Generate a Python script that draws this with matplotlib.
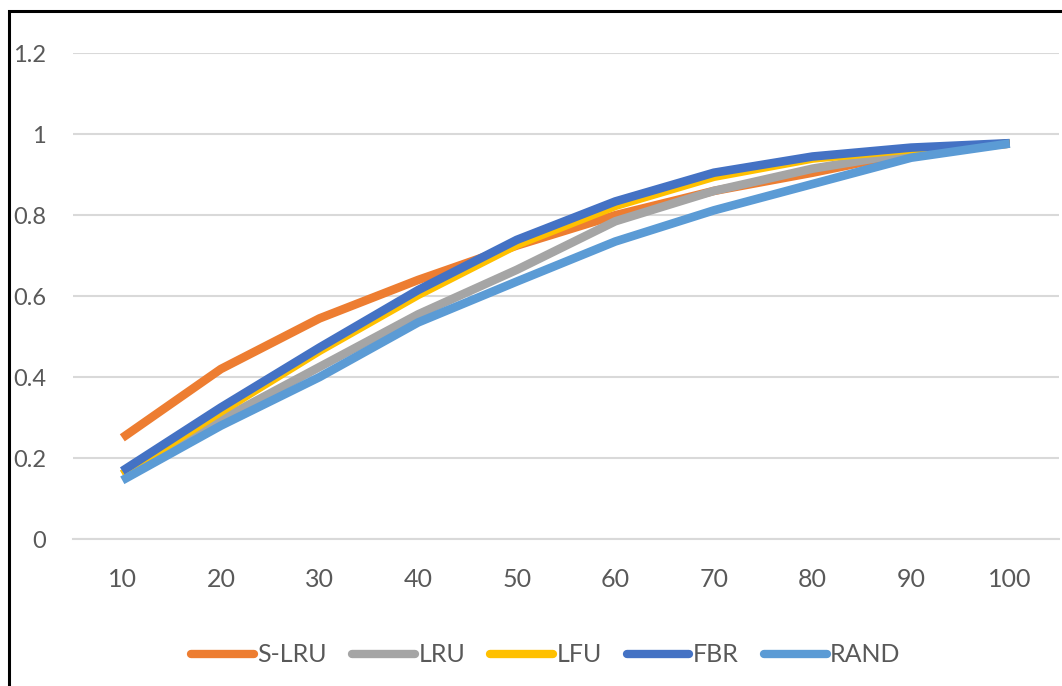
import matplotlib
matplotlib.use("Agg")
import matplotlib.pyplot as plt
from matplotlib.patches import Rectangle

categories = ["10", "20", "30", "40", "50", "60", "70", "80", "90", "100"]
s_lru = [0.25, 0.42, 0.545, 0.64, 0.725, 0.80, 0.86, 0.905, 0.955, 0.977]
lru = [0.16, 0.295, 0.425, 0.555, 0.665, 0.785, 0.86, 0.915, 0.955, 0.977]
lfu = [0.16, 0.315, 0.465, 0.603, 0.727, 0.823, 0.895, 0.94, 0.963, 0.977]
fbr = [0.168, 0.325, 0.473, 0.615, 0.739, 0.834, 0.905, 0.945, 0.967, 0.978]
rand = [0.145, 0.28, 0.40, 0.535, 0.636, 0.735, 0.812, 0.877, 0.942, 0.977]
series_names = ["S-LRU", "LRU", "LFU", "FBR", "RAND"]
y_ticks = [0, 0.2, 0.4, 0.6, 0.8, 1, 1.2]
y_tick_labels = ["0", "0.2", "0.4", "0.6", "0.8", "1", "1.2"]

colors = ["#ED7D31", "#A5A5A5", "#FFC000", "#4472C4", "#5B9BD5"]

plt.rcParams['font.family'] = ['Lato', 'DejaVu Sans']
txt_color = "#595959"

fig = plt.figure(figsize=(10.62, 6.86), dpi=100)
ax = fig.add_axes([73/1062, 1-539/686, (1059-73)/1062, (539-53.3)/686])

x = list(range(len(categories)))
for vals, name, c in zip([s_lru, lru, lfu, fbr, rand], series_names, colors):
    ax.plot(x, vals, color=c, lw=6.2, label=name, solid_capstyle='butt', solid_joinstyle='round')

ax.set_xlim(-0.5, len(categories) - 0.5)
ax.set_ylim(0, 1.2)
ax.set_yticks(y_ticks)
ax.set_yticklabels(y_tick_labels)
ax.set_xticks(x)
ax.set_xticklabels(categories)
ax.yaxis.grid(True, color="#D9D9D9", lw=1.5)
ax.set_axisbelow(True)
for s in ax.spines.values():
    s.set_visible(False)
ax.spines['bottom'].set_visible(True)
ax.spines['bottom'].set_color("#D9D9D9")
ax.spines['bottom'].set_linewidth(1.5)
ax.tick_params(axis='both', length=0, labelsize=18, colors=txt_color)
ax.tick_params(axis='y', labelsize=17, pad=19.5)
ax.tick_params(axis='x', pad=21)
for lbl in ax.get_yticklabels():
    lbl.set_horizontalalignment('right')

leg = fig.legend(loc='center', bbox_to_anchor=(546/1062, 1-655/686), ncol=5, frameon=False,
                 fontsize=18, handlelength=2.5, handletextpad=0.15, columnspacing=1.0)
for t in leg.get_texts():
    t.set_color(txt_color)
for h in leg.get_lines():
    h.set_linewidth(6)
    h.set_solid_capstyle('round')

# outer border
fig.patches.append(Rectangle((9/1062, -0.1), 2.0, 1.1 - 11/686, transform=fig.transFigure,
                             fill=False, edgecolor="black", lw=2.2, figure=fig))

fig.savefig("out.png", dpi=100, facecolor="white")
